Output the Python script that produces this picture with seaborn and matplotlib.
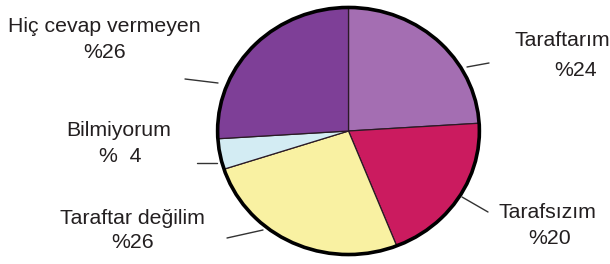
import matplotlib.pyplot as plt
import matplotlib.patches as mpatches
import seaborn as sns

etiketler = ['Taraftarım', 'Tarafsızım', 'Taraftar değilim', 'Bilmiyorum', 'Hiç cevap vermeyen']
yuzdeler = [24, 20, 26, 4, 26]
yuzde_metin = ['%24', '%20', '%26', '%  4', '%26']
renkler = ['#A46EB2', '#CB1B5F', '#F9F1A2', '#D3ECF3', '#7E3F97']

sns.set_theme(style='white')
plt.rcParams['font.family'] = ['Liberation Sans', 'DejaVu Sans']

W, H = 610, 264
fig = plt.figure(figsize=(W / 100, H / 100), dpi=100)

# pasta alani (piksel olarak yerlestirildi)
ax = fig.add_axes([215 / W, 7 / H, 267 / W, 252 / H])
ax.pie(yuzdeler, colors=renkler, startangle=90, counterclock=False,
       wedgeprops=dict(edgecolor='#2a1a25', linewidth=0.9))
ax.set_aspect('auto')
ax.set_xlim(-1.02, 1.02)
ax.set_ylim(-1.02, 1.02)
ax.add_patch(mpatches.Circle((0, 0), 1, fill=False, edgecolor='black', linewidth=2.6))

# etiket konumlari (piksel, x merkez / y merkez)
yazi_yer = [(562, 40, 576, 71), (547, 213, 550, 238), (132, 218, 133, 243),
            (119, 131, 120, 157), (104, 27, 105, 52)]
cizgiler = [((467, 67), (489, 63)), ((462, 197), (488, 212)), ((227, 238), (263, 230)),
            ((197, 163), (217, 163)), ((185, 79), (218, 83))]

for ad, yz, (x1, y1, x2, y2) in zip(etiketler, yuzde_metin, yazi_yer):
    fig.text(x1 / W, 1 - y1 / H, ad, ha='center', va='center', fontsize=15.3, color='#231f20')
    fig.text(x2 / W, 1 - y2 / H, yz, ha='center', va='center', fontsize=15.3, color='#231f20')

for (a, b) in cizgiler:
    fig.add_artist(plt.Line2D([a[0] / W, b[0] / W], [1 - a[1] / H, 1 - b[1] / H],
                              color='#333333', linewidth=1.0, transform=fig.transFigure))

fig.savefig('out.png', dpi=100)
